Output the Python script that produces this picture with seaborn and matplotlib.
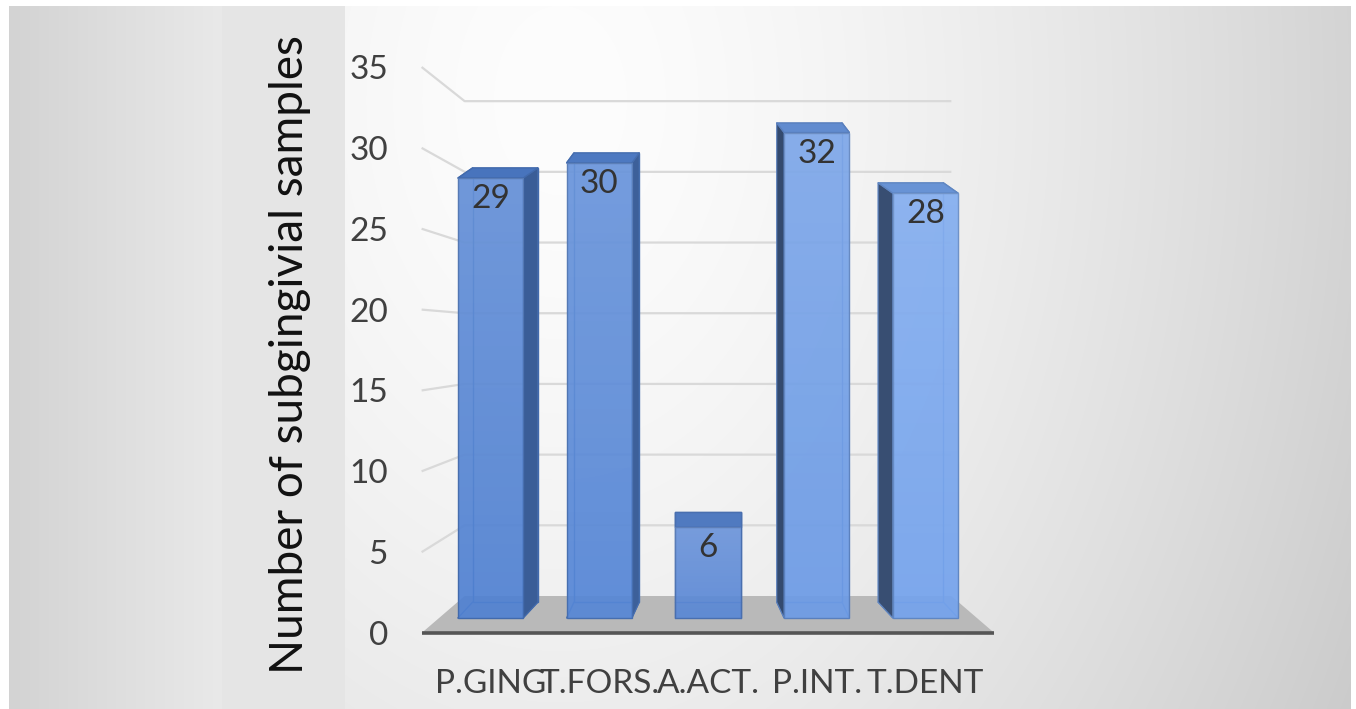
import numpy as np
import pandas as pd
import matplotlib
matplotlib.use("Agg")
import matplotlib.pyplot as plt
from matplotlib.patches import Polygon
from matplotlib.colors import to_rgb, to_rgba
import seaborn as sns

# ---- data ----
categories = ["P.GING", "T.FORS.", "A.ACT.", "P.INT.", "T.DENT"]
samples = [29, 30, 6, 32, 28]
y_ticks = [0, 5, 10, 15, 20, 25, 30, 35]
y_title = "Number of subgingivial samples"

# ---- style ----
bar_colors = ["#5081d2", "#5586d6", "#5987d5", "#6c9be6", "#74a3ed"]
grid_color = "#d9d9d9"
floor_color = "#b9b9b9"
text_color = "#404040"

W, H, DPI = 1356, 709, 100

sns.set_theme(style="white")
plt.rcParams["font.family"] = ["Lato", "DejaVu Sans"]

fig = plt.figure(figsize=(W / DPI, H / DPI), dpi=DPI)

# ---- background panels and soft radial shading ----
bg = fig.add_axes([0, 0, 1, 1])
bg.set_axis_off()
yy, xx = np.mgrid[0:H, 0:W].astype(float)
dist = np.hypot(xx - 560, (yy - 100) * 0.7)
shade = np.clip(253 - 0.00185 * dist ** 1.5, 196, 253)
left_panel = xx < 222
shade[left_panel] = 211 + (xx[left_panel] - 10) / 212 * 22
title_band = (xx >= 222) & (xx < 345)
shade[title_band] = 229
shade[:6, :] = 255
shade[:, :9] = 255
shade[:, W - 5:] = 255
bg.imshow(np.dstack([shade] * 3) / 255, extent=[0, 1, 0, 1], aspect="auto", origin="upper")
bg.set_xlim(0, 1)
bg.set_ylim(0, 1)

# ---- main axes: x in category units, y in value units of the bar front plane ----
PX_PER_CAT, X0_PX = 108.75, 490.5
PX_PER_VAL, Y0_PX = 15.17, 618.0
xlim = ((0 - X0_PX) / PX_PER_CAT, (W - X0_PX) / PX_PER_CAT)
ylim = ((Y0_PX - H) / PX_PER_VAL, Y0_PX / PX_PER_VAL)

ax = fig.add_axes([0, 0, 1, 1])
ax.set_facecolor("none")
df = pd.DataFrame({"category": categories, "samples": samples})
sns.barplot(data=df, x="category", y="samples", hue="category", palette=bar_colors,
            saturation=1, width=0.6, legend=False, ax=ax)

n = len(categories)
center = (n - 1) / 2
half = 0.3
L, R = -half, n - 1 + half

# perspective planes relative to the bar front plane
front_plane = dict(xs=1.145, y0=-0.99, ys=1.066)
wall_plane = dict(xs=0.973, y0=1.45, ys=0.932)
bar_back = dict(xs=0.932, y0=1.05, ys=0.987)


def proj(x, v, pl):
    return center + (x - center) * pl["xs"], pl["y0"] + pl["ys"] * v


# gridlines on the left and back walls
for v in y_ticks[1:]:
    pts = [proj(L, v, front_plane), proj(L, v, wall_plane), proj(R, v, wall_plane)]
    ax.plot([p[0] for p in pts], [p[1] for p in pts], color=grid_color, lw=1.6,
            zorder=1, solid_capstyle="butt")

# floor
floor_pts = [proj(L, 0, front_plane), proj(R, 0, front_plane),
             proj(R, 0, wall_plane), proj(L, 0, wall_plane)]
ax.add_patch(Polygon(floor_pts, closed=True, facecolor=floor_color, edgecolor="none", zorder=2))
fl, fr = floor_pts[0], floor_pts[1]
ax.plot([fl[0], fr[0]], [fl[1], fr[1]], color="#555555", lw=2.6, zorder=2.5,
        solid_capstyle="butt")


def shade_col(c, f):
    r, g, b = to_rgb(c)
    return (r * f, g * f, b * f)


bars = sorted([p for cont in ax.containers for p in cont], key=lambda p: p.get_x())
for patch, col in zip(bars, bar_colors):
    x0, w, h = patch.get_x(), patch.get_width(), patch.get_height()
    x1, xc = x0 + w, x0 + w / 2
    dx = (1 - bar_back["xs"]) * (center - xc)
    yb0 = bar_back["y0"]
    ybh = bar_back["y0"] + bar_back["ys"] * h
    edge = shade_col(col, 0.82)

    # back outline, seen through the translucent front
    back = [(x0 + dx, yb0), (x1 + dx, yb0), (x1 + dx, ybh), (x0 + dx, ybh)]
    ax.add_patch(Polygon(back, closed=True, fill=False, edgecolor=edge, lw=1, zorder=3.5))
    for (fx, fy), (bx, by) in zip([(x0, 0), (x1, 0), (x1, h), (x0, h)], back):
        ax.plot([fx, bx], [fy, by], color=edge, lw=1, zorder=3.5)

    # side face
    if dx > 1e-6:
        side = [(x1, 0), (x1 + dx, yb0), (x1 + dx, ybh), (x1, h)]
        ax.add_patch(Polygon(side, closed=True, facecolor=shade_col(col, 0.72),
                             edgecolor=edge, lw=0.8, zorder=4))
    elif dx < -1e-6:
        side = [(x0, 0), (x0 + dx, yb0), (x0 + dx, ybh), (x0, h)]
        ax.add_patch(Polygon(side, closed=True, facecolor=shade_col(col, 0.48),
                             edgecolor=edge, lw=0.8, zorder=4))

    # top face
    top = [(x0, h), (x1, h), (x1 + dx, ybh), (x0 + dx, ybh)]
    ax.add_patch(Polygon(top, closed=True, facecolor=shade_col(col, 0.9),
                         edgecolor=edge, lw=1, zorder=4))

    # front face
    patch.set_facecolor(to_rgba(col, 0.92))
    patch.set_edgecolor(edge)
    patch.set_linewidth(1)
    patch.set_zorder(5)
    grad = np.zeros((64, 1, 4))
    grad[..., :3] = 1
    grad[..., 3] = np.linspace(0.12, 0.0, 64)[:, None]
    im = ax.imshow(grad, extent=[x0, x1, 0, h], aspect="auto", origin="upper",
                   interpolation="bilinear", zorder=5.5)
    im.set_clip_path(patch)

# value labels inside the bar tops
for cont in ax.containers:
    for t in ax.bar_label(cont, padding=-26, fontsize=24, color="#333333"):
        t.set_zorder(7)

ax.set_xlim(*xlim)
ax.set_ylim(*ylim)
ax.set_xlabel("")
ax.set_ylabel("")
ax.set_yticks([])
for s in ax.spines.values():
    s.set_visible(False)
ax.spines["bottom"].set_position(("data", front_plane["y0"]))
ax.tick_params(axis="x", length=0, pad=26, labelsize=24, labelcolor=text_color)

# value axis labels on the front edge
ax2 = fig.add_axes([0, 0, 1, 1])
ax2.set_facecolor("none")
ax2.set_xlim(*xlim)
ax2.set_ylim((ylim[0] - front_plane["y0"]) / front_plane["ys"],
             (ylim[1] - front_plane["y0"]) / front_plane["ys"])
ax2.set_xticks([])
ax2.set_yticks(y_ticks)
ax2.set_yticklabels([str(t) for t in y_ticks])
for s in ax2.spines.values():
    s.set_visible(False)
ax2.spines["left"].set_position(("data", (388 - X0_PX) / PX_PER_CAT))
ax2.tick_params(axis="y", length=0, pad=0, labelsize=24, labelcolor=text_color)

fig.text(290 / W, 1 - 355 / H, y_title, rotation=90, ha="center", va="center",
         fontsize=33, color="#111111")

fig.savefig("out.png", dpi=DPI)
